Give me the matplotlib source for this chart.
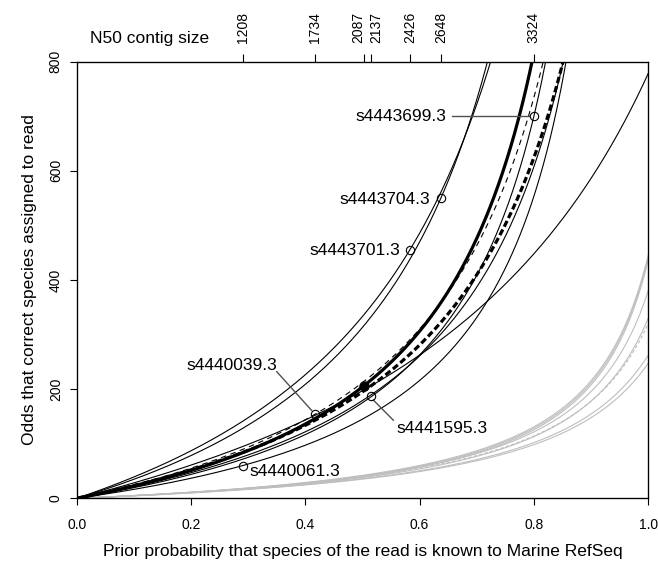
import numpy as np
import matplotlib.pyplot as plt
from matplotlib import transforms

plt.rcParams['font.family'] = ['Liberation Sans', 'DejaVu Sans']
plt.rcParams['font.size'] = 12.5

# Curvas pretas: odds em p=0.5 e em p=1 (inf = sem limite)
black_mid = [313, 333, 204, 212, 175, 179, 195, 145, 197]
black_end = [np.inf, 5780, np.inf, 4100, np.inf, 3000, 2340, 9000, 778]

# Curvas cinzas
gray_mid = [42, 41, 40, 40, 38, 39, 36, 35]
gray_end = [445, 441, 436, 380, 330, 320, 262, 247]

# Amostras marcadas (N50 no eixo de cima)
n50 = np.array([1208, 1734, 2087, 2137, 2426, 2648, 3324])
amostras = ['s4440061.3', 's4440039.3', '', 's4441595.3', 's4443701.3', 's4443704.3', 's4443699.3']
odds_pontos = [59.2, 153.8, 205.7, 187.6, 455, 549.5, 700]

x_ticks = [0.0, 0.2, 0.4, 0.6, 0.8, 1.0]
y_ticks = [0, 200, 400, 600, 800]


def curva_odds(p, mid, end):
    b = 1.0 / end
    c = 1.0 / mid - b
    with np.errstate(divide='ignore'):
        return p / (c * (1 - p) + b * p)


fig = plt.figure(figsize=(6.58, 5.62), dpi=100)
ax = fig.add_axes([76.7 / 658, 63.7 / 562, 571.5 / 658, 436.8 / 562])

p = np.linspace(0, 1, 1500)

# cinzas primeiro
for i, (m, e) in enumerate(zip(gray_mid, gray_end)):
    ls = (0, (3, 2)) if i == 5 else '-'
    ax.plot(p, curva_odds(p, m, e), color='#bebebe', lw=0.8, ls=ls)

# estilos das pretas
estilos = ['-', '-', '-', (0, (5, 4)), '-', '-', (0, (2.0, 1.0)), '-', '-']
larguras = [0.8, 0.8, 2.3, 0.8, 0.8, 0.8, 2.3, 0.8, 0.8]
for m, e, ls, lw in zip(black_mid, black_end, estilos, larguras):
    ax.plot(p, curva_odds(p, m, e), color='black', lw=lw, ls=ls)

# pontos
prior_pontos = n50 / n50.max() * 0.8
for i, (xp, yp) in enumerate(zip(prior_pontos, odds_pontos)):
    if amostras[i] == '':
        ax.plot(xp, yp, 'o', color='black', ms=6.5, zorder=5)
    else:
        ax.plot(xp, yp, 'o', mfc='none', mec='black', ms=6, mew=0.8, zorder=5)

# rotulos
cinza = '#505050'
ax.text(0.646, 700, 's4443699.3', ha='right', va='center')
ax.plot([0.657, 0.792], [700, 700], color=cinza, lw=1)
ax.text(0.618, 548, 's4443704.3', ha='right', va='center')
ax.text(0.5657, 453, 's4443701.3', ha='right', va='center')
ax.text(0.271, 244, 's4440039.3', ha='center', va='center')
ax.plot([0.35, 0.411], [232, 161], color=cinza, lw=1)
ax.text(0.5599, 128, 's4441595.3', ha='left', va='center')
ax.plot([0.519, 0.554], [180, 143], color=cinza, lw=1)
ax.text(0.303, 48.7, 's4440061.3', ha='left', va='center')

ax.set_xlim(0, 1)
ax.set_ylim(0, 800)
ax.set_xticks(x_ticks, [f'{v:.1f}' for v in x_ticks])
ax.set_yticks(y_ticks, [str(v) for v in y_ticks])
for lab in ax.get_yticklabels():
    lab.set_rotation(90)
    lab.set_va('center')
ax.tick_params(length=5, width=0.8, labelsize=10)
ax.tick_params(axis='x', pad=9)
ax.tick_params(axis='y', pad=5)
for s in ax.spines.values():
    s.set_linewidth(0.9)

ax.set_xlabel('Prior probability that species of the read is known to Marine RefSeq', labelpad=9)
ax.set_ylabel('Odds that correct species assigned to read', labelpad=8.5)

# eixo de cima com N50
top = ax.twiny()
top.set_xlim(0, 1)
top.set_xticks(prior_pontos, [''] * len(n50))
top.tick_params(length=6, width=0.8)
blend = transforms.blended_transform_factory(ax.transData, ax.transAxes)
desloc = {2087: -4.0, 2137: 4.0}
for xp, v in zip(prior_pontos, n50):
    tr = transforms.offset_copy(blend, fig=fig, x=desloc.get(v, 0), y=13.2, units='points')
    ax.text(xp, 1, str(v), transform=tr, rotation=90, ha='center', va='bottom', fontsize=10)
fig.text(90 / 658, 1 - 38 / 562, 'N50 contig size', ha='left', va='center')

fig.savefig('out.png', dpi=100)
